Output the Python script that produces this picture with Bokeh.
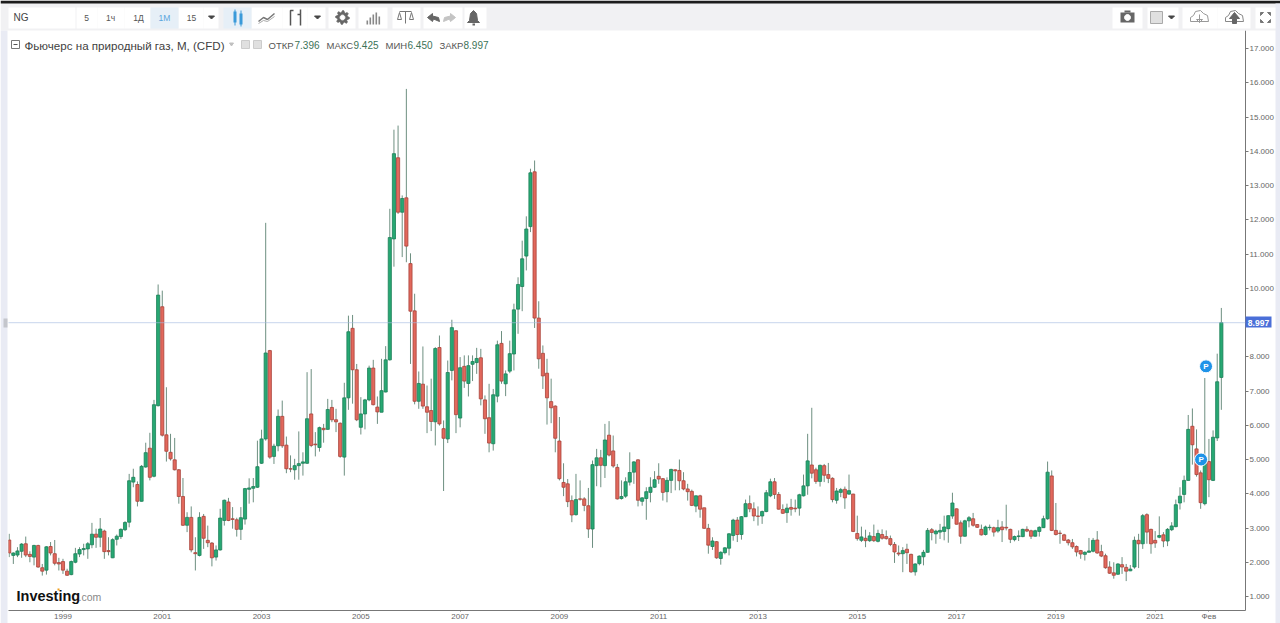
import numpy as np
from bokeh.core.properties import value
from bokeh.embed import file_html
from bokeh.resources import INLINE
from bokeh.plotting import figure
from bokeh.models import (ColumnDataSource, FixedTicker, Label, Span)

opens = [2.65,2.20,2.21,2.32,2.54,2.23,2.15,2.49,1.84,1.77,
2.46,2.25,1.99,2.02,1.74,1.64,2.00,2.24,2.37,2.39,
2.51,2.82,2.73,2.91,2.34,2.13,2.67,2.75,2.95,3.17,
4.34,4.27,3.78,4.78,5.33,4.51,6.57,9.46,5.72,5.21,
4.99,4.70,3.92,3.08,3.31,2.28,2.20,3.34,2.64,2.56,
2.15,2.36,3.22,3.76,3.27,3.24,2.96,3.26,4.13,4.16,
4.19,4.89,5.60,8.18,5.09,5.40,6.26,5.42,4.73,4.70,
4.82,4.89,4.89,6.33,5.45,5.35,5.91,5.88,6.52,6.16,
6.06,5.07,6.80,8.83,7.62,5.94,6.33,6.74,7.67,6.53,
6.38,6.97,7.91,11.44,13.81,12.22,12.64,10.72,9.34,6.70,
7.20,6.54,6.43,6.10,8.27,5.90,5.60,7.60,8.76,6.21,
7.72,7.22,7.78,7.83,7.97,6.74,6.22,5.46,6.85,8.39,
7.21,7.58,8.08,9.39,10.05,10.94,11.80,13.40,9.13,8.10,
7.52,6.69,6.56,5.54,4.33,4.29,3.80,3.39,3.85,3.85,
3.65,2.97,4.82,5.05,4.82,5.71,5.25,4.77,3.86,3.93,
4.34,4.63,4.99,3.78,3.86,4.04,4.19,4.51,4.44,4.06,
4.39,4.70,4.68,4.38,4.14,4.07,3.64,3.94,3.59,2.99,
2.46,2.60,2.11,2.28,2.41,2.78,3.23,2.81,3.33,3.71,
3.56,3.35,3.35,3.48,3.94,4.35,3.98,3.54,3.45,3.60,
3.58,3.58,3.94,4.23,4.84,4.70,4.36,4.82,4.56,4.45,
3.81,4.04,4.13,3.99,3.99,2.84,2.64,2.70,2.63,2.75,
2.61,2.81,2.75,2.69,2.52,2.27,2.25,2.38,2.23,1.72,
1.96,2.16,2.29,2.95,2.83,2.88,2.90,2.98,3.35,3.56,
3.15,2.76,3.21,3.27,3.10,2.96,2.81,3.01,3.01,2.91,
3.03,3.02,2.96,2.66,2.75,2.75,2.96,2.92,2.76,2.90,
3.01,3.27,4.52,2.93,2.85,2.80,2.65,2.57,2.46,2.34,
2.23,2.29,2.32,2.65,2.31,2.19,1.86,1.69,1.65,1.93,
1.85,1.75,1.86,2.64,2.54,3.39,2.96,2.64,2.73,2.80,
2.62,2.95,3.04,3.73,3.98,4.39,5.97,5.31,4.61,3.71,
4.94,4.39,5.63,7.396]
closes = [2.27,2.27,2.33,2.53,2.21,2.17,2.49,1.86,1.74,2.45,
2.27,1.97,1.95,1.77,1.62,2.02,2.25,2.37,2.40,2.54,
2.82,2.73,2.97,2.31,2.31,2.66,2.76,2.96,3.16,4.38,
4.48,3.78,4.80,5.20,4.48,6.60,9.80,5.71,5.24,5.02,
4.70,3.92,3.08,3.31,2.36,2.25,3.31,2.70,2.57,2.13,
2.36,3.29,3.81,3.22,3.25,2.96,3.30,4.15,4.17,4.21,
4.79,5.60,8.11,5.07,5.39,6.26,5.40,4.73,4.72,4.82,
4.88,4.93,6.19,5.41,5.43,5.93,5.87,6.46,6.16,6.10,
5.09,6.80,8.73,7.62,6.16,6.33,6.74,7.67,6.60,6.39,
7.01,7.91,11.48,13.93,12.22,12.62,11.23,9.33,6.70,7.22,
6.56,6.38,6.11,8.24,6.04,5.62,7.54,8.85,6.31,7.68,
7.29,7.74,7.86,7.95,6.77,6.19,5.48,6.89,8.35,7.29,
7.50,8.09,9.37,10.11,10.86,11.73,13.37,9.13,7.94,7.44,
6.80,6.51,5.62,4.44,4.19,3.77,3.38,3.83,3.84,3.66,
2.97,4.85,5.05,4.83,5.57,5.13,4.81,3.85,3.92,4.35,
4.62,4.93,3.81,3.88,4.06,4.19,4.41,4.43,4.04,4.39,
4.71,4.67,4.38,4.14,4.06,3.66,3.94,3.55,2.99,2.50,
2.62,2.13,2.29,2.42,2.83,3.23,2.81,3.33,3.71,3.56,
3.35,3.34,3.48,4.03,4.35,3.98,3.55,3.43,3.58,3.55,
3.56,3.97,4.23,4.96,4.60,4.36,4.83,4.54,4.45,3.83,
4.08,4.12,3.88,4.09,2.90,2.69,2.74,2.63,2.77,2.63,
2.84,2.70,2.69,2.52,2.30,2.24,2.34,2.28,1.72,1.95,
2.18,2.29,2.93,2.87,2.91,2.93,3.03,3.36,3.73,3.11,
2.76,3.21,3.30,3.08,3.02,2.80,3.03,3.02,2.88,3.01,
2.95,3.00,2.67,2.75,2.77,2.96,2.91,2.76,2.92,3.02,
3.27,4.63,2.93,2.81,2.84,2.64,2.57,2.45,2.30,2.24,
2.29,2.33,2.64,2.27,2.18,1.84,1.68,1.62,1.95,1.86,
1.74,1.80,2.64,2.54,3.36,2.88,2.54,2.56,2.78,2.62,
2.96,3.06,3.68,3.93,4.39,5.88,5.43,4.56,3.74,4.92,
4.41,5.65,7.27,8.997]
highs = [2.83,2.29,2.44,2.56,2.75,2.32,2.51,2.51,1.95,2.47,
2.59,2.65,2.13,2.10,1.81,2.05,2.42,2.44,2.54,2.59,
3.15,2.98,3.29,2.95,2.73,2.70,2.81,2.99,3.20,4.58,
4.73,4.36,4.84,5.49,5.78,6.74,10.11,9.93,7.11,5.75,
5.63,4.72,4.46,3.46,3.63,2.73,3.46,3.41,3.07,2.59,
2.49,3.56,3.83,3.88,3.61,3.30,3.61,4.17,4.45,4.46,
5.55,5.87,11.91,8.20,5.46,6.46,6.72,5.67,5.12,5.02,
5.82,5.21,7.55,7.64,5.80,5.96,6.04,6.77,6.74,6.48,
6.08,7.24,9.20,9.22,7.79,6.82,6.77,7.74,7.91,6.84,
7.94,8.31,12.32,14.63,14.75,12.71,15.82,11.02,9.84,7.57,
8.30,7.16,7.36,8.28,8.62,6.14,7.89,9.08,8.77,7.99,
8.04,8.04,8.04,8.26,8.23,6.87,7.21,7.06,8.47,8.75,
7.60,8.47,9.55,10.32,11.39,12.10,13.49,13.73,9.62,8.33,
7.94,7.36,6.58,6.24,4.89,4.43,3.95,4.58,4.39,3.90,
4.17,4.97,5.31,5.28,6.04,6.12,5.70,4.87,4.39,4.48,
5.21,4.95,5.01,3.90,4.19,4.48,4.66,4.89,4.46,4.48,
4.73,4.71,5.00,4.63,4.29,4.12,3.95,3.97,3.59,3.12,
2.73,2.62,2.32,2.44,2.85,3.27,3.32,3.35,3.83,3.95,
3.75,3.63,3.51,4.11,4.44,4.46,4.05,3.69,3.71,3.85,
3.83,4.00,4.56,5.75,6.51,4.76,4.85,4.87,4.90,4.48,
4.17,4.17,4.21,4.56,4.00,3.36,3.04,2.95,2.88,3.10,
2.95,2.96,2.93,2.78,2.59,2.49,2.44,2.54,2.25,1.97,
2.20,2.36,3.00,3.00,2.95,3.12,3.36,3.37,4.03,3.57,
3.22,3.24,3.35,3.44,3.11,3.10,3.07,3.10,3.04,3.24,
3.20,3.68,2.98,2.78,2.93,2.98,3.05,2.95,2.95,3.05,
3.36,4.94,4.68,3.73,2.93,2.83,2.68,2.68,2.49,2.36,
2.32,2.71,2.71,2.91,2.51,2.25,2.03,2.00,1.97,2.15,
1.95,1.92,2.75,2.83,3.41,3.43,2.98,2.91,3.34,2.88,
3.00,3.17,3.83,4.19,4.53,6.30,6.49,5.88,4.68,7.38,
5.60,5.85,8.09,9.425]
lows = [2.15,1.95,2.15,2.13,2.15,2.00,1.91,1.84,1.61,1.64,
2.20,1.91,1.76,1.66,1.60,1.62,1.97,2.15,2.20,2.10,
2.41,2.42,2.44,2.10,2.20,2.12,2.49,2.68,2.91,3.02,
4.19,3.63,3.77,4.76,4.39,4.48,6.55,5.67,4.94,4.97,
4.68,3.71,3.06,2.88,2.29,1.76,2.17,2.39,2.44,1.88,
2.05,2.34,3.07,3.20,2.98,2.75,2.65,3.10,3.71,3.75,
4.17,4.87,5.55,5.02,4.87,5.24,5.34,4.60,4.63,4.41,
4.41,4.53,4.87,5.36,5.09,5.23,5.49,5.87,6.09,5.80,
5.05,4.53,6.45,6.63,6.12,5.73,5.88,6.70,6.58,6.04,
6.38,6.96,7.89,10.63,12.17,10.91,10.76,7.79,6.61,6.48,
6.48,5.77,5.83,5.41,5.99,4.08,5.48,7.31,5.77,5.94,
7.09,6.84,7.29,7.50,6.58,5.75,5.21,5.26,6.67,7.21,
6.85,7.52,7.60,8.67,9.33,10.52,11.64,8.84,7.65,7.06,
6.02,6.06,5.21,4.39,3.93,3.61,3.17,3.36,3.80,3.49,
2.71,2.42,4.22,4.19,4.46,5.09,4.76,3.83,3.83,3.88,
4.24,4.29,3.63,3.65,3.24,3.75,4.17,4.29,3.80,3.75,
4.02,4.10,4.10,4.10,3.80,3.64,3.46,3.30,2.98,2.25,
2.36,2.10,1.93,2.23,2.20,2.63,2.59,2.66,3.32,3.46,
3.20,3.07,3.12,3.46,3.90,3.85,3.54,3.41,3.15,3.36,
3.46,3.36,3.92,3.97,4.45,4.29,4.21,4.34,4.31,3.75,
3.71,3.90,3.56,3.97,2.88,2.63,2.59,2.44,2.59,2.59,
2.58,2.66,2.66,2.47,1.98,2.18,1.71,1.95,1.69,1.61,
1.91,1.91,2.28,2.64,2.54,2.68,2.64,2.57,3.27,3.10,
2.54,2.75,3.02,3.04,3.00,2.78,2.78,2.93,2.75,2.86,
2.59,2.93,2.56,2.61,2.62,2.73,2.88,2.68,2.75,2.75,
3.00,3.24,2.91,2.78,2.54,2.62,2.49,2.39,2.17,2.10,
2.05,2.29,2.29,2.25,2.15,1.81,1.66,1.52,1.63,1.66,
1.45,1.74,1.81,1.83,2.39,2.54,2.25,2.42,2.70,2.44,
2.47,2.91,3.02,3.54,3.75,4.39,4.85,4.50,3.56,3.66,
3.90,4.37,5.54,6.45]

month_ticks = [13,37,61,85,109,133,157,181,205,229,253,277,290]
month_labels = ["1999","2001","2003","2005","2007","2009","2011","2013","2015","2017","2019","2021","Фев"]
price_ticks = list(range(1,18))
pin_index = [289.3,288.1]
pin_price = [7.72,5.0]

FL,FR,FT,FB = 8,1245,30,610
W,H = 1280,623

n = len(opens)
idx = list(range(n))
xr = ((FL-8.7)/4.137, (FR-8.7)/4.137)
yr = (1+(596-FB)/34.25, 1+(596-FT)/34.25)

p = figure(width=W,height=H,output_backend="svg",toolbar_location=None,
           x_range=xr,y_range=yr,y_axis_location="right",
           min_border_left=FL,min_border_right=W-FR,min_border_top=FT,min_border_bottom=H-FB,
           background_fill_color="white",border_fill_color="white",outline_line_color=None,
           margin=(0,0,0,0))
p.grid.visible=False

up = [c>=o for o,c in zip(opens,closes)]
src = ColumnDataSource(dict(x=idx,o=opens,c=closes,h=highs,l=lows,
    fill=["#27a873" if u else "#e2685c" for u in up],
    edge=["#1c7f58" if u else "#a8433a" for u in up],
    wick=["#6d8f80" for u in up]))
p.segment("x","h","x","l",source=src,line_color="wick",line_width=1)
p.vbar("x",0.76,"o","c",source=src,fill_color="fill",line_color="edge",line_width=0.8)

p.add_layout(Span(location=closes[-1],dimension="width",line_color="#a4bbe0",line_width=1.2,line_dash="1 1"))

p.scatter(pin_index,pin_price,size=13,fill_color="#1e93e8",line_color="white",line_width=1)
for a,b in zip(pin_index,pin_price):
    p.add_layout(Label(x=a,y=b,text="P",text_color="white",text_font_size="8px",text_font_style="bold",
                       text_align="center",text_baseline="middle",text_font="Liberation Sans"))

ya = p.yaxis[0]
ya.ticker = FixedTicker(ticks=price_ticks)
ya.major_label_overrides = {t:f"{t}.000" for t in price_ticks}
ya.major_label_text_font="Liberation Sans"
ya.major_label_text_font_size="8px"
ya.major_label_text_color="#666666"
ya.major_tick_in=0; ya.major_tick_out=3; ya.minor_tick_line_color=None
ya.major_tick_line_color="#777777"
ya.axis_line_color="#777777"
ya.major_label_standoff=1

xa = p.xaxis[0]
xa.ticker = FixedTicker(ticks=month_ticks)
xa.major_label_overrides = dict(zip(month_ticks,month_labels))
xa.major_label_text_font="Liberation Sans"
xa.major_label_text_font_size="8px"
xa.major_label_text_color="#666666"
xa.major_tick_in=0; xa.major_tick_out=1; xa.minor_tick_line_color=None
xa.major_tick_line_color="#777777"
xa.axis_line_color="#777777"
xa.major_label_standoff=0

# page chrome: a transparent full-page figure laid over the chart, in page pixels
c = figure(width=W,height=H,output_backend="svg",toolbar_location=None,
           x_range=(0,W),y_range=(H,0),x_axis_location=None,y_axis_location=None,
           min_border=0,background_fill_alpha=0,border_fill_alpha=0,outline_line_color=None,
           margin=(-H,0,0,0))
c.grid.visible=False

def box(x0,y0,x1,y1,fill,line=None):
    c.quad(left=[x0],right=[x1],top=[y0],bottom=[y1],fill_color=fill,line_color=line,line_width=1)
def poly(pts,fill=None,line=None,lw=1):
    xs=[a for a,_ in pts]; ys=[b for _,b in pts]
    if fill:
        c.patch(xs,ys,fill_color=fill,line_color=line or fill,line_width=lw)
    else:
        c.line(xs,ys,line_color=line,line_width=lw)
def text(x,y,s,color="#444444",size=10,style="normal",align="left",font="Liberation Sans"):
    c.text([x],[y],text=[s],text_color=color,text_font_size=f"{size}px",text_font_style=style,
           text_align=align,text_baseline="middle",text_font=value(font))

box(0,0,1280,30,"#f1f1f3")
box(0,0,1280,3,"#1c1c1c")
box(0,30,7,623,"#e9ebf4")
box(1275,3,1280,623,"#e9ebf4")
box(3,318,7,327,"#c4c6cc")

for a,b in [(8,75),(76,97),(97,124),(124,150),(178,203),(203,218),(251,282),(282,307),(307,325),(328,355),
            (358,387),(392,420),(423,462),(464,486),(1112,1142),(1147,1178),(1182,1217),(1217,1250),(1255,1275)]:
    box(a,7,b,28,"white")
box(150,7,178,28,"#e6eff7")
box(223,7,251,28,"#e6eff7")
text(13,17,"NG","#444444",10)
for cx,s in [(86,"5"),(110,"1ч"),(138,"1Д"),(191,"15")]:
    text(cx,17,s,"#555555",8.5,align="center")
text(164,17,"1М","#5aa6de",8.5,align="center")
def tri(cx,cy,s=3,col="#444444"):
    poly([(cx-s,cy-1.5),(cx+s,cy-1.5),(cx,cy+1.5)],fill=col)
for cx in (211,317,1171):
    tri(cx,17)
box(233,11,236,22,"#3a9ad9"); box(239,13,242,24,"#3a9ad9")
poly([(234.5,9),(234.5,25)],line="#3a9ad9"); poly([(240.5,10),(240.5,26)],line="#3a9ad9")
poly([(258,21),(263,17),(267,19),(274,13)],line="#777777",lw=1.5)
poly([(258,23),(263,20),(267,21),(274,16)],line="#aaaaaa",lw=1)
poly([(293,10),(290,10),(290,25)],line="#555555",lw=1.5)
poly([(297,14),(300,14),(300,9),(300,25)],line="#555555",lw=1.5)
ang = np.linspace(0,2*np.pi,33)[:-1]
rad = np.where(np.arange(32)%4<2,6.8,5.0)
poly([(342+r*np.cos(a),17+r*np.sin(a)) for a,r in zip(ang,rad)],fill="#666666")
poly([(342+2.4*np.cos(a),17+2.4*np.sin(a)) for a in ang],fill="white")
for bx,bt in [(366,20),(369,17),(372,14),(375,12),(378,16)]:
    box(bx,bt,bx+1.6,24,"#888888")
poly([(399,11),(411,11)],line="#777777"); poly([(405,11),(405,23)],line="#777777")
poly([(397,19),(399,12),(401,19),(397,19)],line="#777777"); poly([(409,19),(411,12),(413,19),(409,19)],line="#777777")
poly([(427,17),(432,13),(432,15.5),(438,17),(439,21),(433,18.5),(432,21)],fill="#666666")
poly([(455,17),(450,13),(450,15.5),(444,17),(443,21),(449,18.5),(450,21)],fill="#c4c4c4")
poly([(473,10),(476,13),(477,20),(479,22),(467,22),(469,20),(470,13)],fill="#666666")
box(472,23,474.5,25,"#666666")
box(1120,12,1134,22,"#666666"); box(1124,10,1130,12,"#666666")
poly([(1127+3*np.cos(a),17+3*np.sin(a)) for a in ang],fill="white")
box(1150,11,1162,23,"#e0e0e0","#aaaaaa")
def cloud(cx,col):
    poly([(cx-9,21),(cx-9,17),(cx-6,15),(cx-4,11),(cx+1,10),(cx+4,13),(cx+8,15),(cx+9,21),(cx-9,21)],line=col)
cloud(1199,"#999999")
poly([(1199,14),(1199,22),(1196,19),(1202,19),(1199,22)],line="#999999")
cloud(1234,"#888888")
poly([(1234,12),(1239,18),(1236,18),(1236,23),(1232,23),(1232,18),(1229,18)],fill="#666666")
for sx,sy in [(-1,-1),(1,-1),(-1,1),(1,1)]:
    cx,cy=1265+5*sx,17+5*sy
    poly([(cx,cy),(cx-3*sx,cy),(cx,cy-3*sy)],fill="#777777")

box(11,40,19,48,"white","#777777")
poly([(13,44),(17,44)],line="#555555")
text(24,44.5,"Фьючерс на природный газ, М, (CFD)","#3f3f3f",11.6)
box(241,40,249,48,"#e0e0e0","#cccccc"); box(253,40,261,48,"#e0e0e0","#cccccc")
tri(231,44,2,"#c0c0c0")
for tx,s in [(268,"ОТКР"),(326,"МАКС"),(385,"МИН"),(439,"ЗАКР")]:
    text(tx,44.5,s,"#555555",9.5)
for tx,s in [(294,f"{opens[-1]:.3f}"),(353,f"{highs[-1]:.3f}"),(407,f"{lows[-1]:.3f}"),(463,f"{closes[-1]:.3f}")]:
    text(tx,44.5,s,"#3c7358",10)

box(1245,316,1271,327,"#4a6fd8")
text(1258,322,f"{closes[-1]:.3f}","white",8.5,"bold",align="center")

text(16,595,"Investing","#111111",14.5,"bold")
text(78,596,".com","#888888",10.5)
box(57,588,59,590,"#f0a020")

open("out.html","w").write(file_html((p,c),INLINE))
